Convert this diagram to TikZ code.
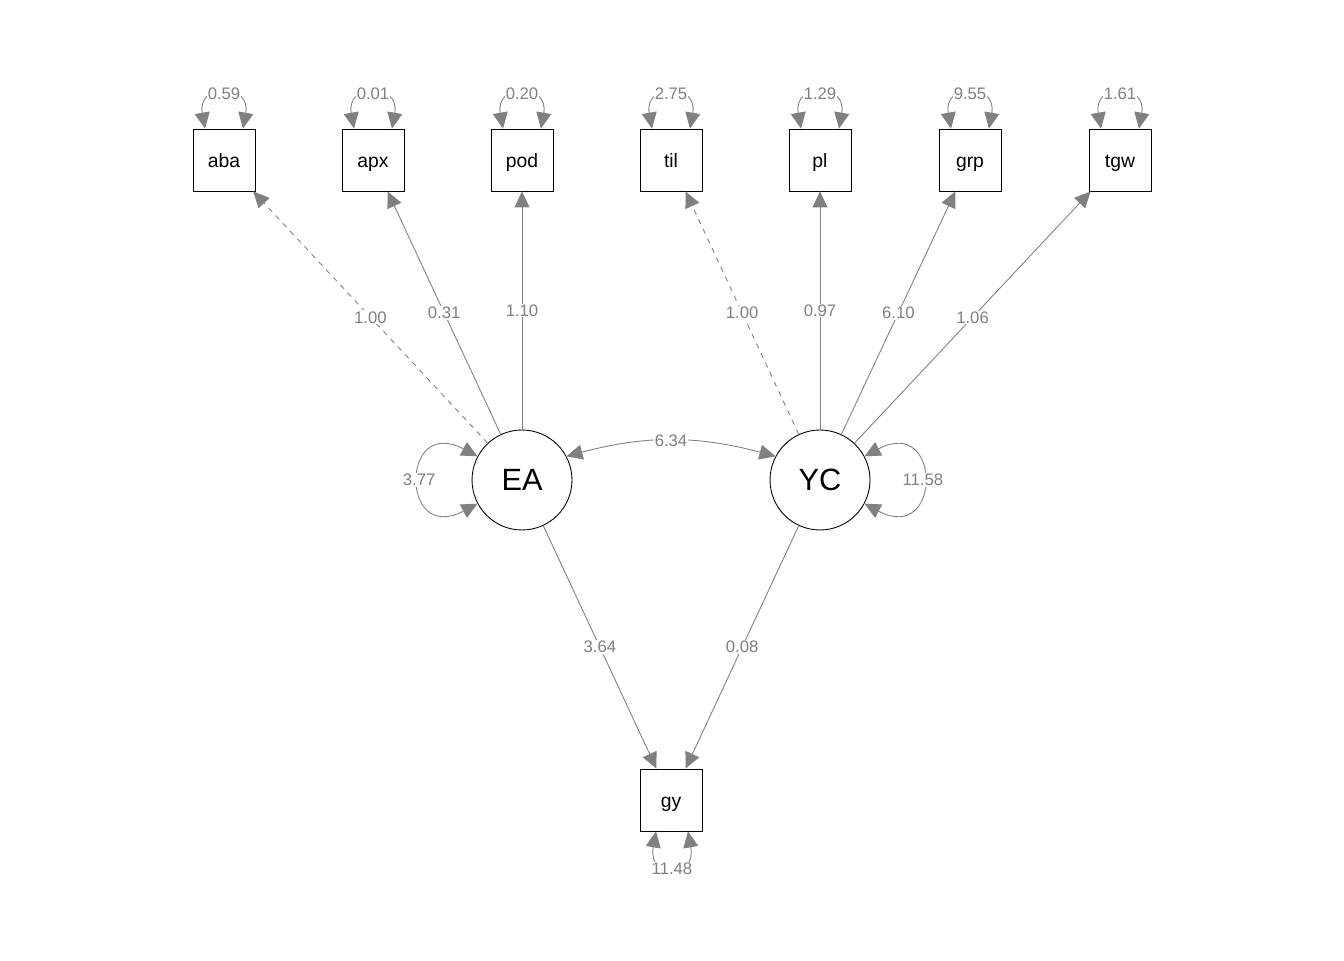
\documentclass[tikz,border=0pt]{standalone}
\usepackage{fontspec}
\setmainfont{Liberation Sans}
\usetikzlibrary{arrows.meta, positioning, calc}

\begin{document}
\begin{tikzpicture}[
    x=0.02cm, y=0.02cm,
    >={Triangle[length=0.32cm, width=0.3cm]},
    obsbox/.style={rectangle, draw, line width=0.5pt, minimum size=1.24cm, inner sep=0pt,
      text height=1.1em, text depth=0.2em, font=\fontsize{11}{12}\selectfont},
    latcirc/.style={circle, draw, line width=0.5pt, minimum size=2cm, inner sep=0pt, font=\fontsize{17.5}{20}\selectfont},
    load/.style={draw=gray, line width=0.5pt, ->},
    var/.style={draw=gray, line width=0.5pt, <->},
    lab/.style={fill=white, text=gray, inner sep=0.5pt, font=\fontsize{9.5}{11}\selectfont},
    font=\normalsize
  ]
  \useasboundingbox (0, 0) rectangle (1344, 960);

  % indicators
  \foreach \nm/\px in {aba/224, apx/373, pod/522, til/671, pl/820, grp/970, tgw/1120}
    \node[obsbox] (\nm) at (\px, 800) {\nm};

  % latent factors and outcome
  \node[latcirc] (EA) at (522, 480) {EA};
  \node[latcirc] (YC) at (820, 480) {YC};
  \node[obsbox] (gy) at (671, 160) {gy};

  % loadings
  \draw[load, dashed] (EA) -- (aba) node[midway, lab] {1.00};
  \draw[load] (EA) -- (apx) node[midway, lab] {0.31};
  \draw[load] (EA) -- (pod) node[midway, lab] {1.10};
  \draw[load, dashed] (YC) -- (til) node[midway, lab] {1.00};
  \draw[load] (YC) -- (pl) node[midway, lab] {0.97};
  \draw[load] (YC) -- (grp) node[midway, lab] {6.10};
  \draw[load] (YC) -- (tgw) node[midway, lab] {1.06};

  % regressions
  \draw[load] (EA) -- (gy) node[midway, lab] {3.64};
  \draw[load] (YC) -- (gy) node[midway, lab] {0.08};

  % residual variances
  \foreach \nm/\vr in {aba/0.59, apx/0.01, pod/0.20, til/2.75, pl/1.29, grp/9.55, tgw/1.61}
    \draw[var] ([xshift=-0.38cm] \nm.north) .. controls +(100:47) and +(80:47) ..
        ([xshift=0.38cm] \nm.north) node[midway, lab] {\vr};
  \draw[var] ([xshift=-0.3cm] gy.south) .. controls +(-100:50) and +(-80:50) ..
      ([xshift=0.34cm] gy.south) node[midway, lab] {11.48};

  % factor variances and covariance
  \draw[var] (EA.152) .. controls +(152:88) and +(208:88) .. (EA.208)
      node[midway, lab] {3.77};
  \draw[var] (YC.28) .. controls +(28:88) and +(-28:88) .. (YC.-28)
      node[midway, lab] {11.58};
  \draw[var] (EA.28) to[bend left=15] node[lab] {6.34} (YC.152);

\end{tikzpicture}
\end{document}
